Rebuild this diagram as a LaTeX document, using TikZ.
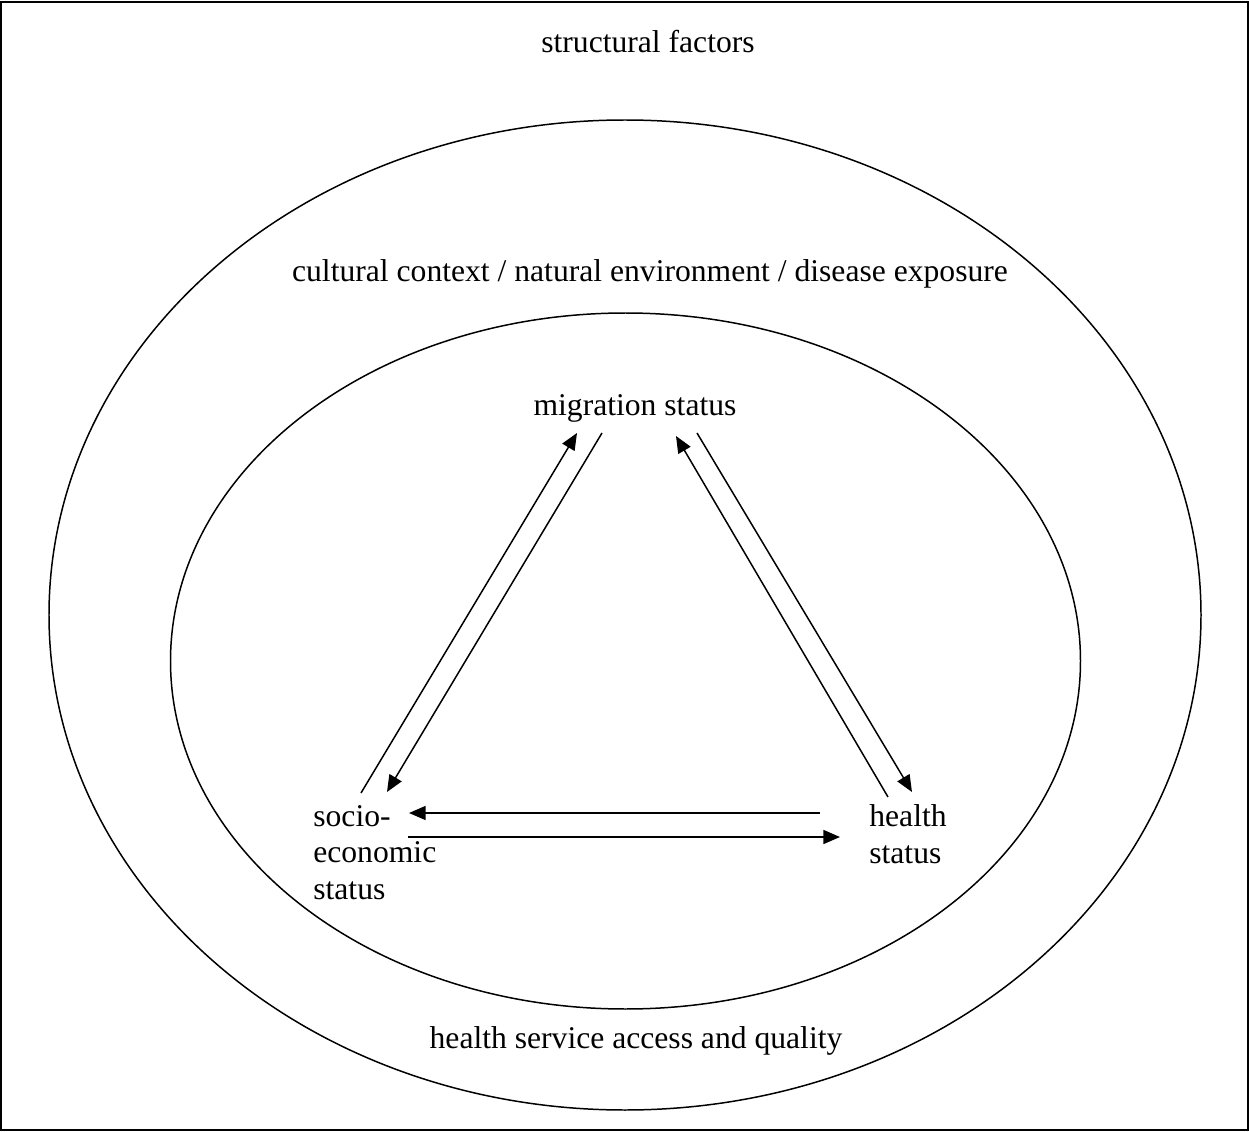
\documentclass[tikz,border=0pt]{standalone}
\usepackage{fontspec}
\setmainfont{Liberation Serif}
\usetikzlibrary{arrows.meta}

\begin{document}
\begin{tikzpicture}[x=0.02cm,y=-0.02cm,
    every node/.style={font=\fontsize{18}{20.5}\selectfont,inner sep=0pt},
    conn/.style={line width=0.85pt,-{Triangle[length=9.5pt,width=8pt]}}]
      \useasboundingbox (0,0) rectangle (1249,1132);
      \draw[line width=1pt] (1,2) rectangle (1248,1130);
      \draw[line width=0.85pt] (625,615) ellipse [x radius=576, y radius=495];
      \draw[line width=0.85pt] (625.5,661) ellipse [x radius=455, y radius=348];
      \draw
        (648,53) node[anchor=base] (struct){structural factors}
        (650,281) node[anchor=base] (culture){cultural context / natural environment / disease exposure}
        (635,415) node[anchor=base] (mig){migration status}
        (636,1048) node[anchor=base] (access){health service access and quality}
        (313,899) node[anchor=base west,align=left] (ses){socio-\\economic\\status}
        (869,863) node[anchor=base west,align=left] (health){health\\status};
      % arrow ends
      \coordinate (ses-a) at (361,793);
      \coordinate (ses-b) at (387,792);
      \coordinate (ses-c) at (409,813);
      \coordinate (ses-d) at (408,837);
      \coordinate (mig-a) at (577,433);
      \coordinate (mig-b) at (602,433);
      \coordinate (mig-c) at (676,436);
      \coordinate (mig-d) at (697,433);
      \coordinate (hs-a) at (888,797);
      \coordinate (hs-b) at (912,792);
      \coordinate (hs-c) at (820,813);
      \coordinate (hs-d) at (840,837);
      \begin{scope}
        \draw[conn] (ses-a) -- (mig-a);
        \draw[conn] (mig-b) -- (ses-b);
        \draw[conn] (mig-d) -- (hs-b);
        \draw[conn] (hs-a) -- (mig-c);
        \draw[conn] (hs-c) -- (ses-c);
        \draw[conn] (ses-d) -- (hs-d);
      \end{scope}
    \end{tikzpicture}
\end{document}
